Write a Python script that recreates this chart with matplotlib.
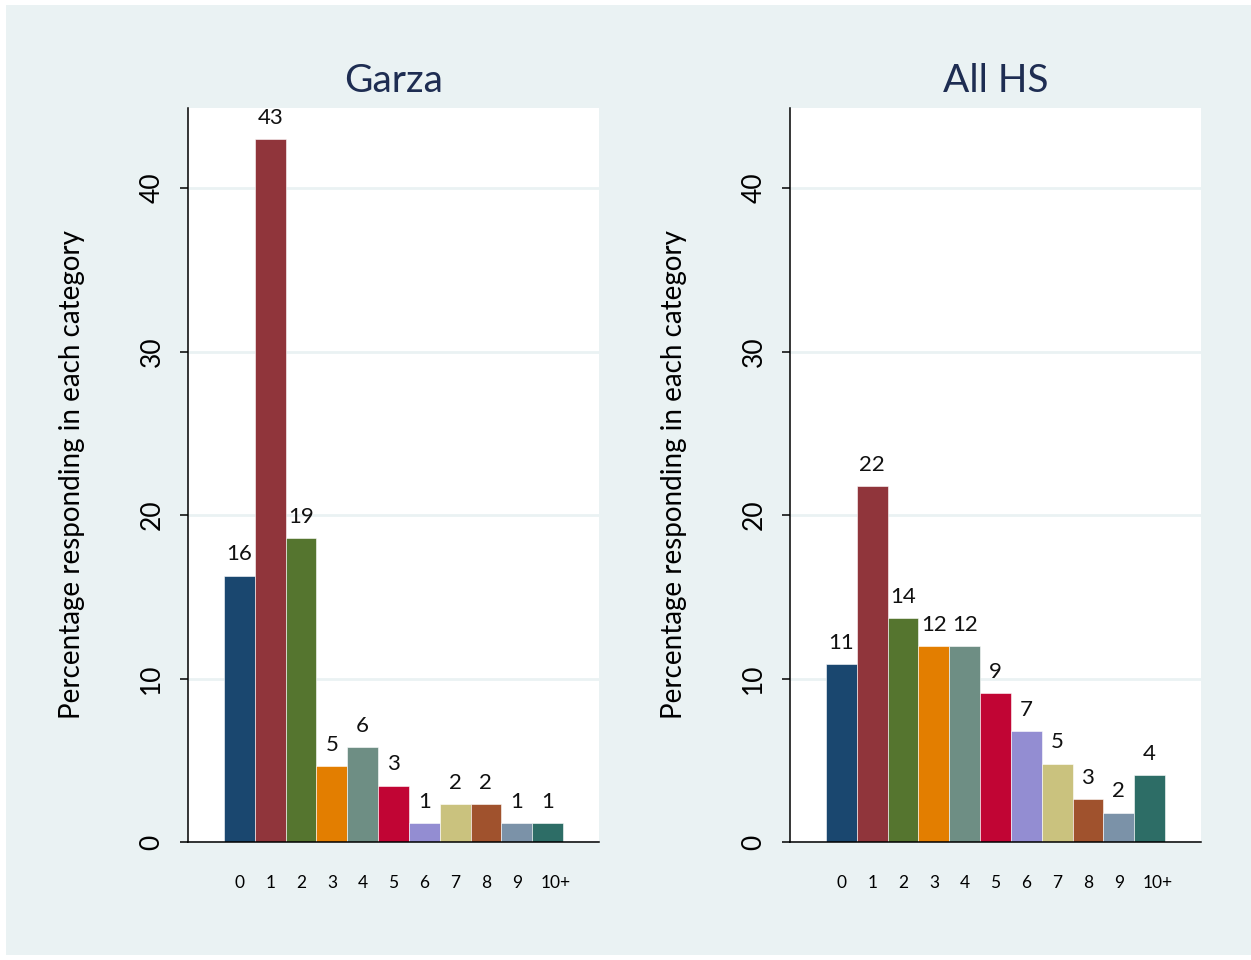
import matplotlib
matplotlib.use("Agg")
import matplotlib.pyplot as plt
import matplotlib.transforms as mtransforms
from matplotlib.patches import Rectangle

# -----------------------------------------------------
# data
# -----------------------------------------------------

categories = ["0", "1", "2", "3", "4", "5", "6", "7", "8", "9", "10+"]
garza = [16.3, 43.0, 18.6, 4.65, 5.8, 3.45, 1.15, 2.3, 2.3, 1.15, 1.15]
all_hs = [10.9, 21.8, 13.7, 12.0, 12.0, 9.1, 6.8, 4.8, 2.6, 1.8, 4.1]
panel_titles = ["Garza", "All HS"]
y_ticks = [0, 10, 20, 30, 40]

# stata s2color palette
bar_colors = ["#1a476f", "#90353b", "#55752f", "#e37e00", "#6e8e84",
              "#c10534", "#938dd2", "#cac27e", "#a0522d", "#7b92a8",
              "#2d6d66"]
bg_color = "#eaf2f3"
title_color = "#1e2d52"

plt.rcParams["font.family"] = ["Lato", "DejaVu Sans"]

# -----------------------------------------------------

def draw_panel(fig, ax, values, title):
    x = range(len(categories))
    bars = ax.bar(x, values, width=1.0, color=bar_colors,
                  edgecolor="white", linewidth=0.4, zorder=3)
    for bar, v in zip(bars, values):
        ax.annotate("%.0f" % v, (bar.get_x() + bar.get_width() / 2, v),
                    xytext=(0, 8), textcoords="offset points",
                    ha="center", va="bottom", fontsize=16, color="#111111")

    ax.set_xlim(-1.67, len(categories) + 0.67)
    ax.set_ylim(0, 44.9)
    ax.set_facecolor("white")
    ax.set_yticks(y_ticks)
    ax.yaxis.grid(True, color=bg_color, linewidth=2, zorder=0)
    ax.set_axisbelow(True)
    ax.set_xticks(list(x))
    ax.set_xticklabels(categories, fontsize=12.5)
    ax.tick_params(axis="x", length=0, pad=24)
    ax.tick_params(axis="y", length=6, width=1.1, pad=11, labelsize=19)
    for lab in ax.get_yticklabels():
        lab.set_rotation(90)
        lab.set_va("center")

    # the "10+" label sits a little right of its bar in the original
    last = ax.get_xticklabels()[-1]
    shift = mtransforms.ScaledTranslation(8 / 100, 0, fig.dpi_scale_trans)
    last.set_transform(last.get_transform() + shift)

    for side in ["top", "right"]:
        ax.spines[side].set_visible(False)
    for side in ["left", "bottom"]:
        ax.spines[side].set_linewidth(1.1)
        ax.spines[side].set_zorder(4)

    ax.set_ylabel("Percentage responding in each category", fontsize=20)
    ax.yaxis.set_label_coords(-0.25, 0.5)
    ax.set_title(title, fontsize=28, color=title_color, pad=11.5)

# -----------------------------------------------------

fig = plt.figure(figsize=(12.51, 9.6), dpi=100, facecolor="white")
fig.patches.append(Rectangle((6 / 1251, 5 / 960), 1 - 6 / 1251, 1 - 10 / 960,
                             transform=fig.transFigure, facecolor=bg_color,
                             edgecolor="none", zorder=-10))

ax1 = fig.add_axes([188 / 1251, 1 - 842 / 960, 411 / 1251, 734 / 960])
ax2 = fig.add_axes([790 / 1251, 1 - 842 / 960, 411 / 1251, 734 / 960])

draw_panel(fig, ax1, garza, panel_titles[0])
draw_panel(fig, ax2, all_hs, panel_titles[1])

fig.savefig("out.png", dpi=100, facecolor="white")
